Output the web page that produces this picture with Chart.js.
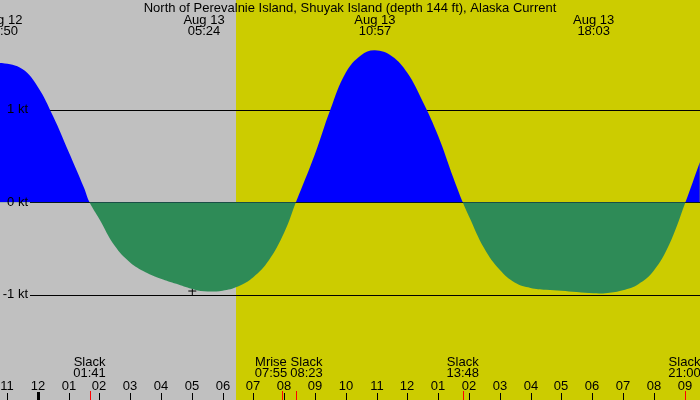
<!DOCTYPE html>
<html>
<head>
<meta charset="utf-8">
<title>North of Perevalnie Island current</title>
<script src="https://cdn.jsdelivr.net/npm/chart.js@4.4.1/dist/chart.umd.min.js"></script>
<style>
  html, body { margin: 0; padding: 0; background: #c0c0c0; }
  #wrap { width: 700px; height: 400px; position: relative; }
</style>
</head>
<body>
<div id="wrap"><canvas id="current-chart"></canvas></div>
<script>
// Hours are counted from midnight Aug 13 (negative = evening of Aug 12)
const sampleHours = [
  -1.5, -1.167, -0.5, 0, 0.5, 1.0, 1.5, 1.683,
  2.0, 2.5, 3.0, 3.5, 4.0, 4.5, 5.0, 5.4, 6.0, 6.5, 7.0, 7.5, 8.0, 8.383,
  9.0, 9.5, 10.0, 10.5, 10.95, 11.5, 12.0, 12.5, 13.0, 13.5, 13.8,
  14.0, 14.5, 15.0, 15.5, 16.0, 16.5, 17.0, 17.5, 18.05, 18.5, 19.0, 19.5, 20.0, 20.5, 21.03,
  21.5
];
const currentKt = [
  1.49, 1.505, 1.44, 1.25, 0.93, 0.55, 0.16, 0,
  -0.18, -0.47, -0.65, -0.755, -0.825, -0.88, -0.935, -0.962, -0.955, -0.91, -0.81, -0.63, -0.33, 0,
  0.52, 1.00, 1.40, 1.59, 1.644, 1.58, 1.40, 1.09, 0.72, 0.26, 0,
  -0.15, -0.50, -0.73, -0.87, -0.925, -0.945, -0.955, -0.97, -0.984, -0.98, -0.95, -0.885, -0.74, -0.46, 0,
  0.436
];

// max flood / max ebb events shown along the top
const peakHours = [-1.167, 5.4, 10.95, 18.05];
const peakDates = ['Aug 12', 'Aug 13', 'Aug 13', 'Aug 13'];
const peakTimes = ['22:50', '05:24', '10:57', '18:03'];

// slack / moonrise events shown along the bottom
const eventHours = [1.683, 7.917, 8.383, 13.8, 21.0];
const eventNames = ['Slack', 'Mrise', 'Slack', 'Slack', 'Slack'];
const eventTimes = ['01:41', '07:55', '08:23', '13:48', '21:00'];

const hourTicks = [-1, 0, 1, 2, 3, 4, 5, 6, 7, 8, 9, 10, 11, 12, 13, 14, 15, 16, 17, 18, 19, 20, 21];
const hourLabels = ['11', '12', '01', '02', '03', '04', '05', '06', '07', '08', '09', '10',
                    '11', '12', '01', '02', '03', '04', '05', '06', '07', '08', '09'];

const ktLevels = [1, 0, -1];
const ktLabels = ['1 kt', '0 kt', '-1 kt'];

const markHour = 5.02;
const markKt = -0.959;

const sunriseHour = 6.44;
const titleText = 'North of Perevalnie Island, Shuyak Island (depth 144 ft), Alaska Current';

const NIGHT = '#c0c0c0';
const DAY = '#cccc00';
const FONT = '13px "Liberation Sans", Arial, sans-serif';

const backdrop = {
    id: 'backdrop',
    beforeDraw(chart) {
        const { ctx, width, height, scales: { x } } = chart;
        const sx = Math.round(x.getPixelForValue(sunriseHour));
        ctx.save();
        ctx.fillStyle = NIGHT;
        ctx.fillRect(0, 0, sx, height);
        ctx.fillStyle = DAY;
        ctx.fillRect(sx, 0, width - sx, height);
        ctx.restore();
    },
    beforeDatasetsDraw(chart) {
        // knot reference lines sit under the filled curve
        const { ctx, width, scales: { y } } = chart;
        ctx.save();
        ctx.strokeStyle = '#000';
        ctx.lineWidth = 1;
        ktLevels.forEach(v => {
            const py = Math.round(y.getPixelForValue(v)) + 0.5;
            ctx.beginPath();
            ctx.moveTo(30, py);
            ctx.lineTo(width, py);
            ctx.stroke();
        });
        ctx.restore();
    }
};

const annotations = {
    id: 'annotations',
    afterDatasetsDraw(chart) {
        const { ctx, width, height, scales: { x, y } } = chart;
        ctx.save();
        ctx.font = FONT;
        ctx.fillStyle = '#000';
        ctx.textBaseline = 'middle';

        // y labels
        ctx.textAlign = 'right';
        ktLevels.forEach((v, i) => ctx.fillText(ktLabels[i], 28, y.getPixelForValue(v)));

        // title and peak times
        ctx.textAlign = 'center';
        ctx.fillText(titleText, width / 2, 8);
        peakHours.forEach((h, i) => {
            const px = x.getPixelForValue(h);
            ctx.fillText(peakDates[i], px, 20);
            ctx.fillText(peakTimes[i], px, 31.5);
        });

        // bottom event labels, pushed apart when they collide
        const boxes = eventHours.map((h, i) => ({
            cx: x.getPixelForValue(h),
            w: Math.max(ctx.measureText(eventNames[i]).width, ctx.measureText(eventTimes[i]).width)
        }));
        for (let i = 0; i < boxes.length - 1; i++) {
            const l = boxes[i], r = boxes[i + 1];
            const overlap = (l.cx + l.w / 2 + 3) - (r.cx - r.w / 2);
            if (overlap > 0) {
                l.cx -= overlap / 2;
                r.cx += overlap / 2;
            }
        }
        boxes.forEach((b, i) => {
            ctx.fillText(eventNames[i], b.cx, 362);
            ctx.fillText(eventTimes[i], b.cx, 373.5);
        });

        // hour labels and ticks
        hourTicks.forEach((h, i) => {
            const px = Math.round(x.getPixelForValue(h));
            ctx.fillText(hourLabels[i], px, 386);
            if (h === 0) {
                ctx.fillRect(px - 1, 392, 3, height - 392);
            } else {
                ctx.fillRect(px, 393, 1, height - 393);
            }
        });
        ctx.fillStyle = '#ff0000';
        eventHours.forEach(h => {
            const px = Math.round(x.getPixelForValue(h));
            ctx.fillRect(px, 391, 1, height - 391);
        });
        ctx.restore();
    }
};

const ctx = document.getElementById('current-chart').getContext('2d');
new Chart(ctx, {
    type: 'line',
    data: {
        datasets: [
            {
                label: 'Current',
                data: sampleHours.map((h, i) => ({ x: h, y: currentKt[i] })),
                borderColor: 'transparent',
                borderWidth: 0,
                pointRadius: 0,
                fill: { target: 'origin', above: '#0000ff', below: '#2e8b57' },
                tension: 0.4
            },
            {
                label: 'Mark',
                data: [{ x: markHour, y: markKt }],
                showLine: false,
                pointStyle: 'cross',
                pointRadius: 4,
                borderColor: '#000',
                borderWidth: 1
            }
        ]
    },
    options: {
        responsive: true,
        maintainAspectRatio: false,
        animation: false,
        layout: { padding: 0, autoPadding: false },
        scales: {
            x: { type: 'linear', min: -1.224, max: 21.503, display: false },
            y: { type: 'linear', min: -2.137, max: 2.187, display: false }
        },
        plugins: {
            legend: { display: false },
            tooltip: { enabled: false }
        }
    },
    plugins: [backdrop, annotations]
});
</script>
</body>
</html>
